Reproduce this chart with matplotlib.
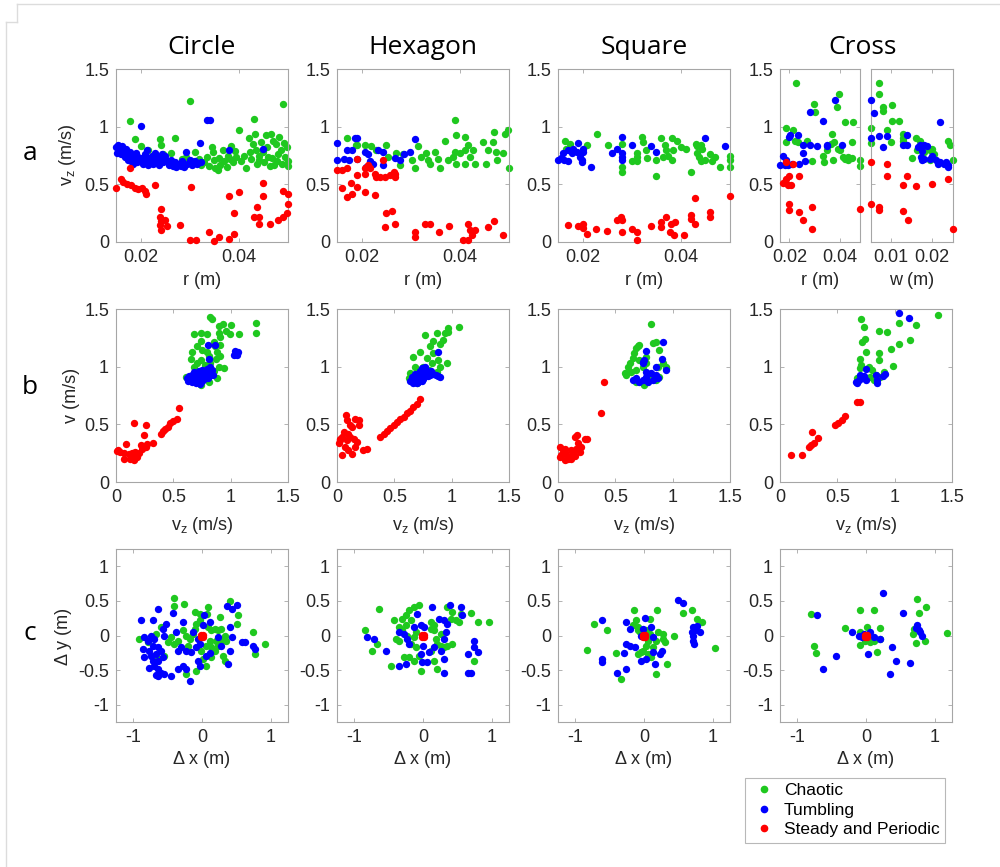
import numpy as np
import matplotlib
matplotlib.use('Agg')
import matplotlib.pyplot as plt
from matplotlib.lines import Line2D
from matplotlib.ticker import FuncFormatter

plt.rcParams['font.family'] = ['Liberation Sans', 'DejaVu Sans']
plt.rcParams['mathtext.default'] = 'regular'

# ---------------- DATA ----------------
shapes = ['Circle', 'Hexagon', 'Square', 'Cross']
row_labels = ['a', 'b', 'c']
class_names = ['Chaotic', 'Tumbling', 'Steady and Periodic']

# Row a : v_z vs r  (Cross also vs w)
circle_a_chaotic = [(0.0179,1.05),(0.0188,0.89),(0.0200,0.83),(0.0215,0.80),(0.0240,0.89),(0.0241,0.84),(0.0245,0.76),(0.0262,0.77),(0.0270,0.90),(0.0285,0.72),(0.0293,0.74),(0.0300,1.22),(0.0305,0.70),(0.0310,0.78),(0.0318,0.72),(0.0322,0.67),(0.0330,0.69),(0.0335,0.74),(0.0340,0.66),(0.0345,0.82),(0.0348,0.78),(0.0350,0.71),(0.0352,0.64),(0.0357,0.62),(0.0360,0.73),(0.0362,0.67),(0.0367,0.80),(0.0370,0.70),(0.0375,0.65),(0.0378,0.75),(0.0382,0.72),(0.0385,0.83),(0.0388,0.69),(0.0392,0.79),(0.0395,0.74),(0.0400,0.97),(0.0405,0.70),(0.0410,0.75),(0.0415,0.645),(0.0420,0.90),(0.0422,0.78),(0.0425,0.72),(0.0428,0.85),(0.0430,1.07),(0.0432,0.94),(0.0435,0.80),(0.0437,0.68),(0.0440,0.75),(0.0442,0.71),(0.0445,0.87),(0.0450,0.78),(0.0452,0.69),(0.0455,0.93),(0.0458,0.82),(0.0460,0.74),(0.0463,0.66),(0.0466,0.94),(0.0468,0.73),(0.0470,0.88),(0.0472,0.67),(0.0475,0.85),(0.0478,0.70),(0.0480,0.76),(0.0482,0.91),(0.0485,0.80),(0.0487,0.68),(0.0490,1.20),(0.0492,0.86),(0.0494,0.74),(0.0497,0.82),(0.0499,0.70),(0.0499,0.66)]
circle_a_tumbling = [(0.0150,0.82),(0.0152,0.77),(0.0155,0.84),(0.0158,0.80),(0.0160,0.76),(0.0163,0.83),(0.0165,0.79),(0.0168,0.74),(0.0170,0.81),(0.0172,0.76),(0.0175,0.71),(0.0178,0.78),(0.0180,0.70),(0.0183,0.75),(0.0185,0.68),(0.0188,0.72),(0.0190,0.77),(0.0193,0.69),(0.0195,0.74),(0.0198,0.70),(0.0200,1.01),(0.0202,0.73),(0.0205,0.68),(0.0208,0.76),(0.0210,0.71),(0.0213,0.80),(0.0215,0.67),(0.0218,0.73),(0.0220,0.70),(0.0223,0.75),(0.0225,0.68),(0.0228,0.72),(0.0230,0.77),(0.0233,0.70),(0.0235,0.74),(0.0238,0.67),(0.0240,0.71),(0.0243,0.76),(0.0245,0.69),(0.0248,0.73),(0.0250,0.75),(0.0253,0.70),(0.0258,0.67),(0.0262,0.71),(0.0265,0.66),(0.0270,0.69),(0.0273,0.65),(0.0278,0.68),(0.0282,0.66),(0.0285,0.70),(0.0288,0.65),(0.0292,0.78),(0.0295,0.68),(0.0300,0.71),(0.0305,0.67),(0.0310,0.70),(0.0315,0.68),(0.0320,0.86),(0.0322,0.69),(0.0335,1.055),(0.0342,1.055),(0.0380,0.80),(0.0450,0.81)]
circle_a_steady = [(0.0150,0.47),(0.0160,0.55),(0.0165,0.52),(0.0172,0.50),(0.0178,0.64),(0.0180,0.49),(0.0188,0.47),(0.0195,0.46),(0.0202,0.47),(0.0208,0.44),(0.0212,0.42),(0.0229,0.49),(0.0241,0.29),(0.0240,0.22),(0.0242,0.18),(0.0250,0.19),(0.0240,0.15),(0.0242,0.10),(0.0253,0.14),(0.0281,0.145),(0.0302,0.48),(0.0300,0.015),(0.0313,0.015),(0.0340,0.09),(0.0350,0.01),(0.0360,0.04),(0.0380,0.03),(0.0390,0.07),(0.0380,0.40),(0.0400,0.43),(0.0390,0.25),(0.0450,0.51),(0.0450,0.40),(0.0430,0.22),(0.0442,0.22),(0.0436,0.30),(0.0442,0.16),(0.0463,0.16),(0.0480,0.19),(0.0490,0.22),(0.0497,0.25),(0.0500,0.33),(0.0490,0.44),(0.0500,0.42)]

hexagon_a_chaotic = [(0.0170,0.90),(0.0190,0.84),(0.0188,0.84),(0.0207,0.84),(0.0220,0.83),(0.0230,0.80),(0.0250,0.84),(0.0254,0.74),(0.0271,0.77),(0.0278,0.67),(0.0285,0.76),(0.0302,0.71),(0.0309,0.64),(0.0315,0.83),(0.0321,0.74),(0.0331,0.77),(0.0335,0.71),(0.0339,0.68),(0.0349,0.78),(0.0356,0.72),(0.0359,0.64),(0.0370,0.88),(0.0376,0.71),(0.0386,0.74),(0.0390,1.06),(0.0393,0.93),(0.0390,0.78),(0.0393,0.68),(0.0400,0.77),(0.0410,0.80),(0.0410,0.68),(0.0417,0.84),(0.0420,0.74),(0.0427,0.80),(0.0430,0.68),(0.0410,0.91),(0.0447,0.87),(0.0454,0.68),(0.0468,0.87),(0.0470,0.95),(0.0474,0.78),(0.0488,0.77),(0.0491,0.94),(0.0498,0.97),(0.0500,0.64),(0.0475,0.71),(0.0458,0.80)]
hexagon_a_tumbling = [(0.0150,0.855),(0.0170,0.80),(0.0150,0.71),(0.0165,0.72),(0.0175,0.71),(0.0190,0.90),(0.0180,0.80),(0.0186,0.90),(0.0190,0.72),(0.0207,0.78),(0.0214,0.76),(0.0234,0.80),(0.0244,0.78),(0.0244,0.67),(0.0210,0.65),(0.0217,0.70),(0.0224,0.68),(0.0268,0.73),(0.0278,0.71),(0.0287,0.76),(0.0298,0.78),(0.0309,0.89)]
hexagon_a_steady = [(0.0150,0.62),(0.0160,0.62),(0.0170,0.64),(0.0190,0.72),(0.0160,0.47),(0.0178,0.51),(0.0170,0.39),(0.0180,0.42),(0.0190,0.48),(0.0190,0.58),(0.0213,0.67),(0.0207,0.64),(0.0217,0.64),(0.0207,0.59),(0.0227,0.59),(0.0237,0.56),(0.0247,0.56),(0.0257,0.58),(0.0268,0.59),(0.0268,0.56),(0.0265,0.61),(0.0230,0.56),(0.0243,0.71),(0.0207,0.43),(0.0227,0.41),(0.0250,0.25),(0.0261,0.27),(0.0247,0.13),(0.0268,0.16),(0.0309,0.09),(0.0309,0.04),(0.0329,0.16),(0.0340,0.16),(0.0358,0.09),(0.0378,0.14),(0.0417,0.16),(0.0420,0.10),(0.0430,0.10),(0.0407,0.02),(0.0417,0.02),(0.0424,0.06),(0.0458,0.13),(0.0469,0.18),(0.0488,0.06)]

square_a_chaotic = [(0.0165,0.88),(0.0175,0.85),(0.0167,0.81),(0.0210,0.845),(0.0230,0.94),(0.0251,0.845),(0.0280,0.85),(0.0280,0.65),(0.0280,0.61),(0.0300,0.70),(0.0310,0.70),(0.0310,0.77),(0.0310,0.74),(0.0320,0.91),(0.0322,0.87),(0.0330,0.80),(0.0332,0.73),(0.0350,0.57),(0.0350,0.71),(0.0360,0.90),(0.0367,0.84),(0.0370,0.80),(0.0363,0.74),(0.0373,0.75),(0.0383,0.80),(0.0382,0.71),(0.0382,0.90),(0.0392,0.88),(0.0400,0.82),(0.0410,0.81),(0.0430,0.85),(0.0432,0.83),(0.0440,0.84),(0.0443,0.81),(0.0420,0.61),(0.0437,0.74),(0.0440,0.70),(0.0433,0.77),(0.0450,0.71),(0.0460,0.76),(0.0463,0.70),(0.0470,0.74),(0.0480,0.65),(0.0500,0.75),(0.0500,0.71),(0.0500,0.65)]
square_a_tumbling = [(0.0150,0.715),(0.0157,0.73),(0.0163,0.71),(0.0160,0.77),(0.0171,0.70),(0.0171,0.80),(0.0178,0.77),(0.0181,0.81),(0.0188,0.78),(0.0190,0.855),(0.0194,0.74),(0.0198,0.71),(0.0201,0.78),(0.0200,0.81),(0.0198,0.69),(0.0218,0.65),(0.0259,0.77),(0.0270,0.81),(0.0280,0.91),(0.0280,0.74),(0.0280,0.71),(0.0280,0.77),(0.0300,0.84),(0.0340,0.83),(0.0350,0.78),(0.0450,0.905),(0.0490,0.83)]
square_a_steady = [(0.0170,0.145),(0.0190,0.14),(0.0200,0.16),(0.0200,0.12),(0.0208,0.07),(0.0228,0.115),(0.0250,0.095),(0.0270,0.19),(0.0278,0.22),(0.0280,0.19),(0.0280,0.09),(0.0300,0.11),(0.0310,0.09),(0.0310,0.015),(0.0340,0.135),(0.0360,0.17),(0.0360,0.13),(0.0370,0.22),(0.0378,0.09),(0.0380,0.16),(0.0388,0.17),(0.0387,0.06),(0.0407,0.06),(0.0420,0.23),(0.0420,0.20),(0.0428,0.16),(0.0428,0.38),(0.0460,0.26),(0.0460,0.22),(0.0500,0.40)]

cross_r_chaotic = [(0.0187,0.99),(0.0187,0.87),(0.0225,1.38),(0.0216,0.975),(0.0222,0.88),(0.0236,0.87),(0.0268,0.88),(0.0288,0.70),(0.0299,1.20),(0.0301,1.13),(0.0334,0.75),(0.0337,0.69),(0.0350,0.80),(0.0367,0.94),(0.0363,0.85),(0.0375,0.87),(0.0371,0.71),(0.0387,1.17),(0.0397,1.28),(0.0393,0.81),(0.0400,0.80),(0.0413,0.74),(0.0420,0.72),(0.0433,0.74),(0.0446,0.73),(0.0420,1.04),(0.0451,1.04),(0.0446,0.87),(0.0430,0.71),(0.0479,0.71),(0.0479,0.66)]
cross_r_tumbling = [(0.0163,0.67),(0.0174,0.745),(0.0187,0.71),(0.0200,0.91),(0.0203,0.93),(0.0210,0.68),(0.0196,0.67),(0.0183,0.67),(0.0236,0.93),(0.0240,0.68),(0.0253,0.77),(0.0253,0.845),(0.0260,0.70),(0.0282,0.845),(0.0282,1.13),(0.0310,0.83),(0.0334,1.05),(0.0347,0.83),(0.0350,0.845),(0.0380,1.23),(0.0407,0.845)]
cross_r_steady = [(0.0174,0.51),(0.0187,0.695),(0.0216,0.68),(0.0187,0.55),(0.0200,0.57),(0.0196,0.49),(0.0207,0.49),(0.0200,0.33),(0.0200,0.275),(0.0240,0.57),(0.0240,0.26),(0.0253,0.195),(0.0288,0.30),(0.0288,0.11),(0.0479,0.29)]
cross_w_chaotic = [(0.0050,0.99),(0.0050,0.86),(0.0070,1.375),(0.0070,1.28),(0.0080,1.17),(0.0080,1.14),(0.0089,0.975),(0.0102,1.19),(0.0102,1.05),(0.0100,0.87),(0.0120,1.05),(0.0130,0.935),(0.0130,0.905),(0.0130,0.875),(0.0151,0.73),(0.0160,0.905),(0.0163,0.80),(0.0170,0.88),(0.0180,0.78),(0.0196,0.80),(0.0200,0.81),(0.0204,0.76),(0.0196,0.71),(0.0240,0.875),(0.0245,0.84),(0.0252,0.71)]
cross_w_tumbling = [(0.0050,1.23),(0.0058,1.12),(0.0051,0.905),(0.0069,0.92),(0.0080,0.825),(0.0089,0.92),(0.0130,0.84),(0.0139,0.93),(0.0139,0.84),(0.0167,0.82),(0.0171,0.84),(0.0175,0.79),(0.0180,0.84),(0.0188,0.83),(0.0172,0.74),(0.0175,0.71),(0.0180,0.72),(0.0195,0.72),(0.0201,0.745),(0.0210,0.71),(0.0214,0.68),(0.0220,0.695),(0.0220,1.04),(0.0230,0.68),(0.0234,0.695),(0.0240,0.67),(0.0240,0.65)]
cross_w_steady = [(0.0050,0.69),(0.0050,0.33),(0.0070,0.305),(0.0070,0.275),(0.0089,0.675),(0.0089,0.57),(0.0130,0.49),(0.0130,0.265),(0.0139,0.57),(0.0140,0.195),(0.0160,0.485),(0.0200,0.505),(0.0240,0.55),(0.0252,0.11)]

# Row b : v vs v_z
circle_b_chaotic = [(0.816,1.43),(0.84,1.415),(0.68,1.28),(0.74,1.29),(0.795,1.28),(0.86,1.175),(0.90,1.35),(0.935,1.37),(1.00,1.36),(0.99,1.28),(1.07,1.28),(0.90,1.29),(0.91,1.255),(1.22,1.38),(1.225,1.29),(0.74,1.22),(0.71,1.175),(0.75,1.145),(0.795,1.13),(0.855,1.21),(0.88,1.13),(0.91,1.09),(0.87,1.07),(0.81,1.09),(0.65,1.07),(0.68,1.00),(0.71,1.03),(0.74,1.06),(0.78,1.015),(0.82,1.03),(0.90,1.00),(0.855,0.96),(0.77,0.94),(0.68,0.94),(0.635,0.90),(0.61,0.91),(0.74,0.855),(0.81,0.87),(0.88,0.90),(0.94,0.99),(0.74,0.84),(0.91,1.19),(0.955,1.305),(0.66,1.13)]
circle_b_tumbling = [(0.62,0.90),(0.63,0.88),(0.64,0.92),(0.65,0.89),(0.66,0.87),(0.66,0.93),(0.67,0.90),(0.68,0.88),(0.68,0.95),(0.69,0.91),(0.70,0.87),(0.70,0.93),(0.71,0.89),(0.72,0.96),(0.72,0.91),(0.73,0.88),(0.74,0.93),(0.74,0.90),(0.75,0.97),(0.75,0.88),(0.76,0.92),(0.77,0.95),(0.77,0.89),(0.78,0.91),(0.79,0.98),(0.79,0.93),(0.80,0.90),(0.81,0.96),(0.81,0.92),(0.82,1.00),(0.83,0.94),(0.84,0.97),(0.85,0.93),(0.80,1.19),(0.86,1.19),(0.81,1.065),(1.03,1.10),(1.045,1.12),(1.06,1.13),(1.055,1.10),(1.04,1.14),(0.695,0.86),(0.73,0.85)]
circle_b_steady = [(0.009,0.27),(0.015,0.275),(0.038,0.26),(0.067,0.25),(0.09,0.33),(0.073,0.20),(0.125,0.20),(0.154,0.23),(0.18,0.22),(0.16,0.51),(0.154,0.195),(0.11,0.24),(0.14,0.25),(0.17,0.26),(0.20,0.25),(0.22,0.32),(0.23,0.29),(0.26,0.30),(0.26,0.49),(0.24,0.41),(0.27,0.33),(0.32,0.34),(0.39,0.42),(0.41,0.44),(0.43,0.46),(0.45,0.48),(0.47,0.51),(0.50,0.53),(0.53,0.55),(0.55,0.64)]

hexagon_b_chaotic = [(0.77,1.276),(0.97,1.334),(1.06,1.34),(0.87,1.29),(0.84,1.22),(0.90,1.20),(0.81,1.175),(0.725,1.13),(0.667,1.088),(0.638,0.943),(0.667,0.885),(0.71,0.957),(0.783,1.073),(0.827,1.03),(0.885,1.06),(0.696,0.856),(0.624,0.90),(0.84,1.117),(0.928,1.233),(0.97,1.30),(0.94,1.29),(0.754,1.00),(0.80,0.97),(0.87,0.957),(0.90,1.00),(0.957,1.03),(0.68,1.00),(0.73,0.91)]
hexagon_b_tumbling = [(0.64,0.88),(0.65,0.91),(0.66,0.86),(0.67,0.90),(0.68,0.94),(0.69,0.88),(0.70,0.92),(0.71,0.87),(0.72,0.96),(0.72,0.90),(0.73,0.93),(0.74,0.99),(0.74,0.88),(0.75,0.95),(0.76,0.91),(0.77,1.00),(0.77,0.93),(0.78,0.97),(0.79,0.92),(0.80,0.95),(0.81,0.93),(0.82,0.96),(0.84,0.94),(0.86,0.93),(0.88,0.92),(0.90,0.91),(0.885,1.13),(0.70,0.86),(0.68,0.91),(0.75,0.89)]
hexagon_b_steady = [(0.029,0.377),(0.015,0.334),(0.044,0.39),(0.058,0.435),(0.10,0.42),(0.087,0.537),(0.116,0.49),(0.13,0.48),(0.16,0.55),(0.19,0.537),(0.145,0.377),(0.174,0.35),(0.16,0.305),(0.13,0.247),(0.10,0.275),(0.073,0.305),(0.044,0.232),(0.03,0.36),(0.087,0.36),(0.116,0.39),(0.081,0.58),(0.19,0.49),(0.23,0.275),(0.26,0.29),(0.377,0.39),(0.406,0.42),(0.435,0.444),(0.464,0.47),(0.493,0.493),(0.522,0.516),(0.551,0.542),(0.58,0.566),(0.61,0.595),(0.638,0.618),(0.667,0.647),(0.696,0.676),(0.725,0.716)]

square_b_chaotic = [(0.81,1.372),(0.58,0.943),(0.61,1.00),(0.624,1.03),(0.667,1.117),(0.696,1.175),(0.71,1.19),(0.77,1.088),(0.827,1.204),(0.856,1.218),(0.885,1.146),(0.914,1.03),(0.943,1.00),(0.638,0.957),(0.68,0.972),(0.74,1.00),(0.798,0.914),(0.856,0.885),(0.885,0.914),(0.943,0.986),(0.754,0.841),(0.68,0.87),(0.595,0.928),(0.71,1.06),(0.77,1.03),(0.87,1.00),(0.68,1.16),(0.65,1.073)]
square_b_tumbling = [(0.914,1.218),(0.77,1.137),(0.908,1.065),(0.745,1.044),(0.856,1.00),(0.943,0.97),(0.653,0.885),(0.68,0.90),(0.71,0.87),(0.74,0.885),(0.77,0.914),(0.783,0.87),(0.812,0.943),(0.827,0.885),(0.856,0.928),(0.87,0.90),(0.77,0.957),(0.74,1.03),(0.754,1.06)]
square_b_steady = [(0.015,0.305),(0.03,0.232),(0.058,0.19),(0.044,0.26),(0.073,0.247),(0.10,0.218),(0.116,0.276),(0.13,0.247),(0.16,0.29),(0.174,0.334),(0.145,0.39),(0.165,0.406),(0.203,0.305),(0.232,0.377),(0.252,0.377),(0.087,0.203),(0.015,0.218),(0.058,0.29),(0.116,0.203),(0.145,0.223),(0.19,0.26),(0.397,0.87),(0.377,0.595)]

cross_b_chaotic = [(0.708,1.413),(0.731,1.343),(0.717,1.218),(0.737,1.239),(0.746,1.123),(0.702,1.065),(0.708,1.015),(0.696,0.986),(0.673,0.90),(0.862,1.305),(0.934,1.297),(0.862,1.117),(0.862,1.059),(0.969,1.152),(0.986,1.007),(1.036,1.378),(1.036,1.198),(1.19,1.363),(1.137,1.233),(1.375,1.45),(0.775,1.00),(0.804,0.972),(0.833,0.928),(0.876,0.914),(0.905,0.957),(0.789,0.914),(0.818,0.885)]
cross_b_tumbling = [(1.041,1.465),(1.123,1.42),(0.754,0.98),(0.659,0.87),(0.688,0.885),(0.717,0.90),(0.731,0.92),(0.746,0.885),(0.702,0.928),(0.673,0.862),(0.833,0.928),(0.847,0.885),(0.842,0.856),(0.90,0.92),(0.92,0.937)]
cross_b_steady = [(0.10,0.23),(0.19,0.23),(0.28,0.43),(0.25,0.30),(0.27,0.32),(0.30,0.34),(0.33,0.38),(0.48,0.49),(0.51,0.51),(0.54,0.54),(0.57,0.57),(0.67,0.69),(0.70,0.69)]

# Row c : dy vs dx
circle_c_chaotic = [(-0.40,0.537),(-0.40,0.424),(-0.263,0.454),(-0.107,0.341),(-0.034,0.317),(0.088,0.405),(0.078,0.317),(0.259,0.268),(0.405,0.502),(-0.595,0.122),(-0.668,0.024),(-0.912,-0.049),(-0.79,-0.098),(-0.498,-0.098),(-0.449,-0.024),(-0.40,-0.122),(-0.351,-0.073),(-0.278,0.073),(-0.229,0.0),(-0.18,-0.049),(-0.205,-0.146),(-0.132,0.024),(-0.107,0.098),(-0.083,0.171),(-0.034,0.22),(0.088,0.122),(0.137,0.073),(0.185,0.098),(0.234,0.073),(0.283,0.098),(0.332,0.0),(0.356,-0.073),(0.234,-0.146),(0.185,-0.22),(0.137,-0.171),(0.063,-0.146),(0.112,-0.073),(0.21,-0.073),(0.283,-0.073),(0.063,-0.439),(0.137,-0.317),(0.307,-0.293),(0.332,-0.366),(-0.083,-0.512),(-0.229,-0.561),(-0.644,-0.341),(-0.546,-0.293),(0.502,0.171),(0.527,0.293),(0.746,0.049),(0.917,-0.122),(0.771,-0.268),(-0.01,-0.22),(0.015,-0.341)]
circle_c_tumbling = [(-0.888,0.22),(-0.839,-0.024),(-0.863,-0.195),(-0.717,0.22),(-0.741,0.0),(-0.693,-0.049),(-0.79,-0.073),(-0.717,-0.146),(-0.644,-0.171),(-0.595,-0.22),(-0.668,-0.268),(-0.741,-0.293),(-0.766,-0.22),(-0.839,-0.317),(-0.717,-0.366),(-0.644,-0.366),(-0.571,-0.317),(-0.693,-0.439),(-0.644,-0.488),(-0.595,-0.537),(-0.546,-0.561),(-0.644,-0.585),(-0.766,-0.463),(-0.668,-0.571),(-0.644,0.39),(-0.546,0.0),(-0.571,0.098),(-0.522,0.171),(-0.42,0.327),(-0.351,-0.488),(-0.278,-0.439),(-0.229,-0.488),(-0.449,-0.585),(-0.176,-0.659),(-0.278,0.195),(-0.376,0.049),(-0.302,-0.171),(-0.229,-0.22),(-0.156,-0.244),(-0.083,-0.171),(-0.034,-0.122),(-0.059,-0.049),(0.015,0.146),(0.029,0.293),(0.112,0.195),(-0.059,-0.366),(-0.034,-0.439),(0.063,-0.293),(0.112,-0.259),(0.234,-0.024),(0.283,-0.146),(0.405,-0.22),(0.38,-0.415),(0.405,0.122),(0.361,0.424),(0.429,0.39),(0.502,0.439),(0.576,-0.098),(0.624,-0.098),(0.746,-0.146),(0.771,-0.195),(0.43,-0.02),(-0.35,-0.22),(-0.13,0.05)]
circle_c_steady = [(0.0,0.0),(0.015,0.01),(-0.01,-0.015),(0.015,-0.015),(-0.015,0.01)]

hexagon_c_chaotic = [(-0.837,0.073),(-0.74,-0.22),(-0.667,-0.122),(-0.642,0.376),(-0.472,-0.439),(-0.423,0.22),(-0.35,0.122),(-0.399,-0.049),(-0.35,-0.073),(-0.302,0.244),(-0.253,0.293),(-0.204,0.366),(-0.131,0.415),(-0.058,0.439),(-0.302,0.073),(-0.253,0.146),(-0.18,0.22),(-0.229,0.0),(-0.131,-0.024),(-0.107,0.049),(-0.18,-0.122),(-0.107,-0.171),(-0.277,-0.317),(-0.204,-0.317),(-0.131,-0.366),(-0.058,-0.293),(-0.034,-0.512),(0.112,0.195),(0.161,0.146),(0.185,-0.049),(0.209,-0.122),(0.258,-0.146),(0.307,-0.171),(0.355,-0.146),(0.428,-0.122),(0.258,0.024),(0.161,0.073),(0.112,0.098),(0.404,0.244),(0.477,0.22),(0.526,0.195),(0.355,0.415),(0.428,0.341),(0.55,0.317),(0.696,0.327),(0.745,-0.366),(0.793,0.195),(0.964,0.195),(0.209,-0.488),(0.161,-0.366),(0.112,-0.22)]
hexagon_c_tumbling = [(-0.813,-0.024),(-0.715,-0.049),(-0.545,-0.22),(-0.35,-0.439),(-0.253,-0.415),(-0.35,0.049),(-0.277,0.024),(-0.229,-0.049),(-0.204,-0.122),(-0.131,0.122),(-0.083,0.317),(-0.034,-0.268),(-0.01,-0.39),(0.063,-0.39),(-0.034,0.146),(0.015,0.122),(0.088,-0.244),(0.136,0.415),(0.234,0.244),(0.307,0.22),(0.355,0.171),(0.331,0.049),(0.307,-0.049),(0.258,-0.22),(0.161,-0.171),(0.307,-0.341),(0.307,-0.537),(0.394,0.439),(0.55,0.415),(0.574,0.293),(0.647,-0.537),(0.696,-0.537),(0.745,-0.073),(0.745,-0.171),(0.793,-0.244),(0.647,-0.268),(0.0,-0.146)]
hexagon_c_steady = [(0.0,0.0),(0.015,0.01),(-0.01,-0.015),(0.015,-0.015),(-0.015,0.01)]

square_c_chaotic = [(-0.829,-0.21),(-0.732,0.161),(-0.541,0.073),(-0.405,-0.259),(-0.332,-0.634),(-0.151,0.366),(-0.112,0.22),(-0.161,0.146),(-0.088,0.122),(-0.063,0.049),(0.034,0.073),(0.083,0.024),(0.059,-0.073),(0.034,-0.146),(-0.015,-0.22),(-0.088,-0.268),(-0.039,-0.244),(0.059,-0.268),(0.107,-0.317),(0.132,-0.171),(0.18,-0.073),(0.205,0.049),(0.278,0.024),(0.302,-0.098),(0.278,-0.049),(0.093,0.244),(0.19,0.366),(0.337,-0.405),(0.171,-0.561),(0.434,0.0),(0.561,0.327),(0.693,0.366),(0.766,0.244),(0.849,0.195),(1.034,-0.18),(-0.088,0.073)]
square_c_tumbling = [(-0.61,0.22),(-0.61,-0.341),(-0.61,-0.39),(-0.268,0.195),(-0.21,0.088),(-0.268,-0.122),(-0.21,-0.146),(-0.137,-0.171),(-0.293,-0.259),(-0.268,-0.488),(-0.39,-0.546),(0.01,0.254),(-0.015,0.098),(-0.039,0.0),(0.132,-0.024),(0.107,0.122),(-0.039,-0.366),(0.034,-0.341),(0.156,-0.415),(0.132,-0.244),(0.229,-0.268),(0.268,-0.22),(0.498,0.512),(0.571,0.463),(0.707,0.122),(0.741,0.073),(0.717,0.0),(0.707,-0.073),(0.727,-0.122),(0.815,0.049),(0.766,0.132),(0.693,0.049)]
square_c_steady = [(0.0,0.0),(0.015,0.01),(-0.01,-0.015),(0.015,-0.015),(-0.015,0.01)]

cross_c_chaotic = [(-0.796,0.317),(-0.762,-0.146),(-0.723,-0.259),(-0.311,0.107),(-0.083,0.366),(0.112,0.366),(0.015,0.122),(-0.083,0.049),(-0.01,-0.073),(-0.092,-0.132),(0.063,-0.098),(0.112,-0.073),(0.199,0.112),(0.199,-0.049),(0.16,-0.244),(0.743,0.527),(0.767,0.327),(0.879,0.405),(0.694,0.098),(0.684,0.024),(0.733,-0.112),(0.854,-0.083),(1.18,0.034)]
cross_c_tumbling = [(-0.714,0.302),(-0.626,-0.488),(-0.432,-0.293),(-0.204,0.049),(-0.107,0.0),(-0.058,-0.024),(-0.034,0.024),(0.063,0.049),(0.112,-0.024),(0.209,-0.049),(0.024,-0.268),(0.248,0.61),(0.379,-0.161),(0.437,-0.366),(0.354,-0.551),(0.539,0.327),(0.646,-0.40),(0.743,0.146),(0.767,0.073),(0.816,0.0),(0.791,0.049),(0.733,0.112)]
cross_c_steady = [(0.0,0.0),(0.015,0.01),(-0.01,-0.015),(0.015,-0.015),(-0.015,0.01)]

# ---------------- STYLE ----------------
COLORS = ['#1fc81f', '#0000ff', '#ff0000']
SPINE = '#a6a6a6'
TXT = '#262626'
W, H = 1000, 867

fig = plt.figure(figsize=(10, 8.67), dpi=100)
fig.patch.set_facecolor('white')

def ax_at(l, t, r, b):
    return fig.add_axes([l / W, 1 - b / H, (r - l) / W, (b - t) / H])

gfmt = FuncFormatter(lambda v, p: f'{v:g}')

def style(ax):
    for s in ax.spines.values():
        s.set_color(SPINE)
        s.set_linewidth(0.8)
    ax.tick_params(direction='in', length=3, width=0.6, color=SPINE,
                   top=True, right=True, labelsize=13, labelcolor=TXT, pad=5)
    ax.xaxis.set_major_formatter(gfmt)
    ax.yaxis.set_major_formatter(gfmt)

def draw(ax, groups):
    for pts, col, z in zip(groups, COLORS, [2, 3, 4]):
        a = np.array(pts, dtype=float)
        ax.scatter(a[:, 0], a[:, 1], s=28, c=col, linewidths=0, clip_on=False, zorder=z)

def ftext(x, y, s, **kw):
    kw.setdefault('color', TXT)
    fig.text(x / W, 1 - y / H, s, ha='center', va='center', **kw)

col_lefts = [116, 337, 558, 780]
col_w = 172
row_a = (69, 242); row_b = (309, 482); row_c = (549, 722)

data_a = [(circle_a_chaotic, circle_a_tumbling, circle_a_steady),
          (hexagon_a_chaotic, hexagon_a_tumbling, hexagon_a_steady),
          (square_a_chaotic, square_a_tumbling, square_a_steady)]
data_b = [(circle_b_chaotic, circle_b_tumbling, circle_b_steady),
          (hexagon_b_chaotic, hexagon_b_tumbling, hexagon_b_steady),
          (square_b_chaotic, square_b_tumbling, square_b_steady),
          (cross_b_chaotic, cross_b_tumbling, cross_b_steady)]
data_c = [(circle_c_chaotic, circle_c_tumbling, circle_c_steady),
          (hexagon_c_chaotic, hexagon_c_tumbling, hexagon_c_steady),
          (square_c_chaotic, square_c_tumbling, square_c_steady),
          (cross_c_chaotic, cross_c_tumbling, cross_c_steady)]

# Row a
for i, groups in enumerate(data_a):
    l = col_lefts[i]
    ax = ax_at(l, row_a[0], l + col_w, row_a[1])
    draw(ax, groups)
    ax.set_xlim(0.015, 0.05); ax.set_ylim(0, 1.5)
    ax.set_xticks([0.02, 0.04]); ax.set_yticks([0, 0.5, 1, 1.5])
    style(ax)
    ftext(l + col_w / 2, 281, 'r (m)', fontsize=13)

ax = ax_at(780, row_a[0], 860, row_a[1])
draw(ax, (cross_r_chaotic, cross_r_tumbling, cross_r_steady))
ax.set_xlim(0.0163, 0.0479); ax.set_ylim(0, 1.5)
ax.set_xticks([0.02, 0.04]); ax.set_yticks([0, 0.5, 1, 1.5])
style(ax)
ftext(820, 281, 'r (m)', fontsize=13)

ax = ax_at(871, row_a[0], 953, row_a[1])
draw(ax, (cross_w_chaotic, cross_w_tumbling, cross_w_steady))
ax.set_xlim(0.005, 0.0252); ax.set_ylim(0, 1.5)
ax.set_xticks([0.01, 0.02]); ax.set_yticks([0, 0.5, 1, 1.5])
style(ax)
ax.tick_params(labelleft=False)
ftext(912, 281, 'w (m)', fontsize=13)

# Row b
for i, groups in enumerate(data_b):
    l = col_lefts[i]
    ax = ax_at(l, row_b[0], l + col_w, row_b[1])
    draw(ax, groups)
    ax.set_xlim(0, 1.5); ax.set_ylim(0, 1.5)
    ax.set_xticks([0, 0.5, 1, 1.5]); ax.set_yticks([0, 0.5, 1, 1.5])
    style(ax)
    ftext(l + col_w / 2, 525, 'v$_z$ (m/s)', fontsize=13)

# Row c
for i, groups in enumerate(data_c):
    l = col_lefts[i]
    ax = ax_at(l, row_c[0], l + col_w, row_c[1])
    draw(ax, groups)
    ax.set_xlim(-1.25, 1.25); ax.set_ylim(-1.25, 1.25)
    ax.set_xticks([-1, 0, 1]); ax.set_yticks([-1, -0.5, 0, 0.5, 1])
    style(ax)
    ftext(l + col_w / 2, 760, '\u0394 x (m)', fontsize=13)

# y labels
ftext(68, 155, 'v$_z$ (m/s)', fontsize=13, rotation=90)
ftext(72, 395, 'v (m/s)', fontsize=13, rotation=90)
ftext(63, 636, '\u0394 y (m)', fontsize=13, rotation=90)

# Titles and row labels
for i, name in enumerate(shapes):
    ftext(col_lefts[i] + col_w / 2 + (0 if i < 3 else -3), 47, name,
          fontsize=19, color='black', family=['Open Sans', 'DejaVu Sans'])
for lab, y in zip(row_labels, [153, 388, 633]):
    ftext(30, y, lab, fontsize=19, color='black', family=['Open Sans', 'DejaVu Sans'])

# Legend
handles = [Line2D([], [], marker='o', ls='', color=c, markersize=4.5) for c in COLORS]
leg = fig.legend(handles, class_names, loc='upper left',
                 bbox_to_anchor=(745 / W, 1 - 778 / H),
                 fontsize=12.5, frameon=True, fancybox=False, borderaxespad=0,
                 handlelength=1.6, handletextpad=0.35, labelspacing=0.25, borderpad=0.3)
leg.get_frame().set_edgecolor(SPINE)
leg.get_frame().set_linewidth(0.8)
for t in leg.get_texts():
    t.set_color('black')

# faint page frame
for (x0, y0, x1, y1) in [(17, 4, 1000, 4), (17, 4, 17, 22), (6, 22, 17, 22), (6, 22, 6, 867)]:
    fig.add_artist(Line2D([x0 / W, x1 / W], [1 - y0 / H, 1 - y1 / H],
                          transform=fig.transFigure, color='#dcdcdc', lw=1))

fig.savefig('out.png', dpi=100)
